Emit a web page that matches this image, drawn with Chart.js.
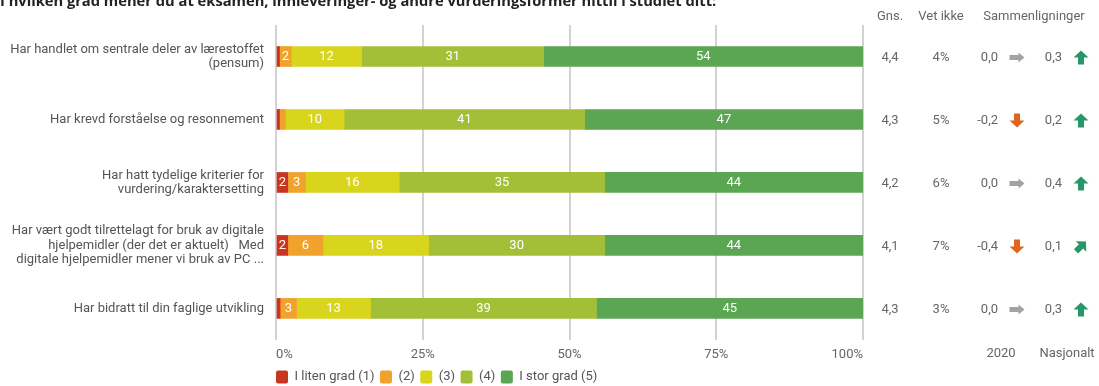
<!DOCTYPE html>
<html>
<head>
<meta charset="utf-8">
<script src="https://cdn.jsdelivr.net/npm/chart.js@4.4.0/dist/chart.umd.min.js"></script>
<style>
  html, body { margin: 0; padding: 0; background: #fff; }
  #wrap { width: 1099px; height: 386px; position: relative; }
</style>
</head>
<body>
<div id="wrap"><canvas id="vurdering"></canvas></div>
<script>
// Data lest av figuren
const tittel = 'I hvilken grad mener du at eksamen, innleveringer- og andre vurderingsformer hittil i studiet ditt:';
const kategorier = [
    ['Har handlet om sentrale deler av lærestoffet', '(pensum)'],
    'Har krevd forståelse og resonnement',
    ['Har hatt tydelige kriterier for', 'vurdering/karaktersetting'],
    ['Har vært godt tilrettelagt for bruk av digitale', 'hjelpemidler (der det er aktuelt)   Med', 'digitale hjelpemidler mener vi bruk av PC ...'],
    'Har bidratt til din faglige utvikling'
];
const serieNavn = ['I liten grad (1)', '(2)', '(3)', '(4)', 'I stor grad (5)'];
const serieFarger = ['#c9361f', '#f0a22d', '#d9d41c', '#a3bf38', '#5aa653'];
const grad1 = [0.6, 0.6, 2, 2, 0.7];
const grad2 = [2, 1, 3, 6, 2.8];
const grad3 = [12, 10, 16, 18, 12.6];
const grad4 = [31, 41, 35, 30, 38.5];
const grad5 = [54.4, 47.4, 44, 44, 45.4];
const gns = ['4,4', '4,3', '4,2', '4,1', '4,3'];
const vetIkke = ['4%', '5%', '6%', '7%', '3%'];
const diff2020 = ['0,0', '-0,2', '0,0', '-0,4', '0,0'];
const pil2020 = ['hoyre', 'ned', 'hoyre', 'ned', 'hoyre'];
const diffNasj = ['0,3', '0,2', '0,4', '0,1', '0,3'];
const pilNasj = ['opp', 'opp', 'opp', 'skraa', 'opp'];
const xTicks = ['0%', '25%', '50%', '75%', '100%'];

const font = { family: 'Roboto', size: 13 };
const tekstGraa = '#666';
const legendePadding = 5.5;

const pilFarger = { hoyre: '#a3a3a3', ned: '#e0651c', opp: '#27966b', skraa: '#27966b' };

function tegnPil(ctx, cx, cy, retning) {
    const vinkel = { hoyre: 0, ned: Math.PI / 2, opp: -Math.PI / 2, skraa: -Math.PI / 4 }[retning];
    // graa pil er litt slankere
    const L = retning === 'hoyre' ? 7.5 : 7;
    const H = retning === 'hoyre' ? 5 : 7.5;
    const S = retning === 'hoyre' ? 2.5 : 3;
    const K = retning === 'hoyre' ? 6 : 7;
    ctx.save();
    ctx.translate(cx, cy);
    ctx.rotate(vinkel);
    ctx.beginPath();
    ctx.moveTo(-L, -S);
    ctx.lineTo(L - K, -S);
    ctx.lineTo(L - K, -H);
    ctx.lineTo(L, 0);
    ctx.lineTo(L - K, H);
    ctx.lineTo(L - K, S);
    ctx.lineTo(-L, S);
    ctx.closePath();
    ctx.fillStyle = pilFarger[retning];
    ctx.fill();
    ctx.restore();
}

// Tall inne i segmentene
const segmentTekst = {
    id: 'segmentTekst',
    afterDatasetsDraw(chart) {
        const ctx = chart.ctx;
        ctx.save();
        ctx.font = '13px Roboto';
        ctx.fillStyle = '#fff';
        ctx.textAlign = 'center';
        ctx.textBaseline = 'middle';
        chart.data.datasets.forEach((ds, i) => {
            chart.getDatasetMeta(i).data.forEach((bar, j) => {
                const w = Math.abs(bar.x - bar.base);
                if (w < 8) return;
                ctx.fillText(Math.round(ds.data[j]), (bar.x + bar.base) / 2, bar.y + 0.5);
            });
        });
        ctx.restore();
    }
};

// Tittel, kolonner til hoyre og legendeplassering
const ekstra = {
    id: 'ekstra',
    beforeDraw(chart) {
        chart.legend.left = chart.chartArea.left - legendePadding;
        chart.legend.top = chart.height - 21;
    },
    afterDraw(chart) {
        const { ctx, chartArea, scales: { y } } = chart;
        const r = chartArea.right;
        ctx.save();

        // tittelen er delvis kuttet i toppen, bredde ca 717 px
        ctx.font = 'bold 12px "Open Sans"';
        const str = 12 * 717 / ctx.measureText(tittel).width;
        ctx.font = 'bold ' + str.toFixed(1) + 'px "Open Sans"';
        ctx.fillStyle = '#222';
        ctx.textAlign = 'left';
        ctx.textBaseline = 'alphabetic';
        ctx.fillText(tittel, 0, 6);

        ctx.font = '13px Roboto';
        ctx.fillStyle = tekstGraa;
        ctx.textBaseline = 'middle';
        ctx.textAlign = 'center';
        ctx.fillText('Gns.', r + 27, 17);
        ctx.fillText('Vet ikke', r + 78, 17);
        ctx.fillText('Sammenligninger', r + 171, 17);
        ctx.fillText('2020', r + 138, 354);
        ctx.fillText('Nasjonalt', r + 204, 354);

        kategorier.forEach((k, i) => {
            const yy = y.getPixelForValue(i) + 1;
            ctx.fillStyle = tekstGraa;
            ctx.textAlign = 'center';
            ctx.fillText(gns[i], r + 27, yy);
            ctx.fillText(vetIkke[i], r + 78, yy);
            ctx.textAlign = 'right';
            ctx.fillText(diff2020[i], r + 135, yy);
            ctx.fillText(diffNasj[i], r + 199, yy);
            tegnPil(ctx, r + 154, yy, pil2020[i]);
            tegnPil(ctx, r + 218, yy, pilNasj[i]);
        });
        ctx.restore();
    }
};

const serier = [grad1, grad2, grad3, grad4, grad5];

new Chart(document.getElementById('vurdering'), {
    type: 'bar',
    data: {
        labels: kategorier,
        datasets: serier.map((data, i) => ({
            label: serieNavn[i],
            data: data,
            backgroundColor: serieFarger[i],
            borderWidth: 0,
            barThickness: 20
        }))
    },
    options: {
        indexAxis: 'y',
        responsive: true,
        maintainAspectRatio: false,
        animation: false,
        layout: { padding: { top: 25, right: 236, left: 0, bottom: -12 } },
        scales: {
            x: {
                stacked: true,
                min: 0,
                max: 100,
                ticks: {
                    stepSize: 25,
                    align: 'inner',
                    padding: 7,
                    color: tekstGraa,
                    font: font,
                    callback: (v, i) => xTicks[i]
                },
                grid: { color: '#d2d2d2', lineWidth: 2, drawTicks: false },
                border: { display: false }
            },
            y: {
                stacked: true,
                grid: { display: false, drawTicks: false },
                border: { display: false },
                ticks: { padding: 12, color: '#555', font: { family: 'Roboto', size: 13, lineHeight: 1.1 } },
                afterFit(scale) { scale.width = 276; }
            }
        },
        plugins: {
            legend: {
                position: 'bottom',
                align: 'start',
                labels: {
                    boxWidth: 12,
                    boxHeight: 13,
                    padding: legendePadding,
                    color: '#555',
                    font: font,
                    useBorderRadius: true,
                    borderRadius: 2
                }
            },
            tooltip: { enabled: false }
        }
    },
    plugins: [segmentTekst, ekstra]
});
</script>
</body>
</html>
